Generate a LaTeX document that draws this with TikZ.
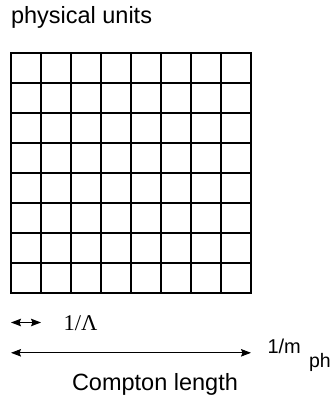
\documentclass[tikz,border=0pt]{standalone}
\usepackage{fontspec}
\setmainfont{Latin Modern Roman}
\newfontfamily\arialfont{Liberation Sans}
\newfontfamily\timesfont{Liberation Serif}
\usetikzlibrary{arrows.meta}
\begin{document}
\begin{tikzpicture}[x=1pt,y=-1pt,
  gridline/.style={line width=1.4pt,line cap=rect},
  dimarrow/.style={line width=1pt,{Stealth[length=10pt,width=7.5pt,inset=1.5pt]}-{Stealth[length=10pt,width=7.5pt,inset=1.5pt]}},
  lbl/.style={anchor=base west,inner sep=0pt,outer sep=0pt}]
\useasboundingbox (0,0) rectangle (336,401);
\foreach \i in {0,...,8} {
  \draw[gridline] ({11+30*\i},53) -- ({11+30*\i},293);
  \draw[gridline] (11,{53+30*\i}) -- (251,{53+30*\i});
}
\node[lbl,font=\arialfont\fontsize{23.5}{28}\selectfont] (title) at (11,24) {physical units};
\coordinate (sa) at (11,322.5);
\coordinate (sb) at (41,322.5);
\draw[dimarrow] (sa) -- (sb);
\node[lbl,font=\timesfont\fontsize{22.5}{26}\selectfont] (lam) at (63.5,330.5) {1/Λ};
\coordinate (la) at (11,352.8);
\coordinate (lb) at (251,352.8);
\draw[dimarrow] (la) -- (lb);
\node[lbl,font=\arialfont\fontsize{20}{24}\selectfont] (m) at (267.5,353) {1/m};
\node[lbl,font=\arialfont\fontsize{19.5}{23}\selectfont] (ph) at (309,367) {ph};
\node[lbl,font=\arialfont\fontsize{23.5}{28}\selectfont] (compton) at (72,390.5) {Compton length};
\end{tikzpicture}
\end{document}
